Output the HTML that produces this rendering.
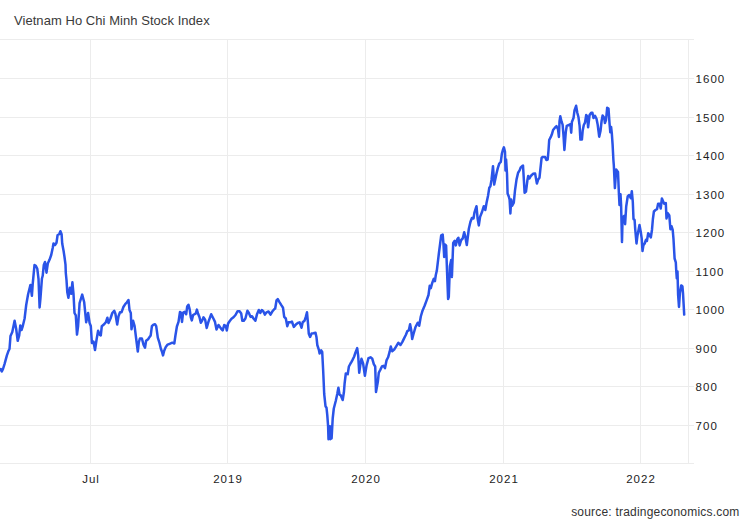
<!DOCTYPE html>
<html><head><meta charset="utf-8"><style>
html,body{margin:0;padding:0;background:#fff;}
body{width:750px;height:520px;overflow:hidden;position:relative;}
svg{position:absolute;left:0;top:0;}
text{font-family:"Liberation Sans",sans-serif;}
</style></head><body>
<svg width="750" height="520" viewBox="0 0 750 520">
<g stroke="#ececec" stroke-width="1" shape-rendering="crispEdges">
<line x1="0" y1="39.5" x2="694" y2="39.5"/>
<line x1="0" y1="78.5" x2="694" y2="78.5"/>
<line x1="0" y1="117.5" x2="694" y2="117.5"/>
<line x1="0" y1="155.5" x2="694" y2="155.5"/>
<line x1="0" y1="194.5" x2="694" y2="194.5"/>
<line x1="0" y1="232.5" x2="694" y2="232.5"/>
<line x1="0" y1="271.5" x2="694" y2="271.5"/>
<line x1="0" y1="309.5" x2="694" y2="309.5"/>
<line x1="0" y1="348.5" x2="694" y2="348.5"/>
<line x1="0" y1="386.5" x2="694" y2="386.5"/>
<line x1="0" y1="425.5" x2="694" y2="425.5"/>
<line x1="0" y1="463.5" x2="694" y2="463.5"/>
<line x1="90.5" y1="39" x2="90.5" y2="464"/>
<line x1="227.5" y1="39" x2="227.5" y2="464"/>
<line x1="365.5" y1="39" x2="365.5" y2="464"/>
<line x1="503.5" y1="39" x2="503.5" y2="464"/>
<line x1="640.5" y1="39" x2="640.5" y2="464"/>
<line x1="688.5" y1="39" x2="688.5" y2="464"/>
</g>
<text x="14" y="25" font-size="13" fill="#3a3a3a" letter-spacing="0.05">Vietnam Ho Chi Minh Stock Index</text>
<g font-size="11.5" fill="#1c1c1c" letter-spacing="1.0">
<text x="695.6" y="82.9">1600</text>
<text x="695.6" y="121.9">1500</text>
<text x="695.6" y="159.9">1400</text>
<text x="695.6" y="198.9">1300</text>
<text x="695.6" y="236.9">1200</text>
<text x="695.6" y="275.9">1100</text>
<text x="695.6" y="313.9">1000</text>
<text x="695.6" y="352.9">900</text>
<text x="695.6" y="390.9">800</text>
<text x="695.6" y="429.9">700</text>
<text x="91.0" y="483" text-anchor="middle">Jul</text>
<text x="228.0" y="483" text-anchor="middle">2019</text>
<text x="366.0" y="483" text-anchor="middle">2020</text>
<text x="504.0" y="483" text-anchor="middle">2021</text>
<text x="641.0" y="483" text-anchor="middle">2022</text>
</g>
<text x="739.5" y="516" font-size="12" fill="#333" letter-spacing="0.2" text-anchor="end">source: tradingeconomics.com</text>
<path d="M0,370 L0.8,369 L1.8,371.5 L3,369 L4.6,363.8 L6.9,355.4 L8.5,350.8 L9.5,349 L10.5,336 L12.3,332 L14.6,320.8 L16.2,329 L17.7,340.8 L19.2,335.4 L20.3,325.4 L21.5,330 L22.8,326 L24.6,318.5 L26.2,305 L28.1,294.2 L30.4,285 L31.9,295.8 L32.7,284.2 L34.5,265 L35.8,265.8 L37.3,268.8 L38.5,278.8 L39.6,307.5 L40.4,298.8 L41.9,278.8 L42.7,275.8 L43.8,265 L45,262 L46.5,272.7 L47.8,263.5 L49.6,259.6 L51.2,255 L52.7,248 L53.5,243.5 L55,245 L56.5,242.7 L57.6,235 L59.2,234.2 L60.4,231.2 L61.6,234.2 L62.2,243.5 L63.5,250.4 L64.5,257 L65.5,264.6 L65.8,273 L66.5,280 L67.3,292.3 L68.4,297.7 L69.9,287.7 L71.2,293.8 L72.4,282.3 L73.5,293.8 L74.5,313 L75.8,315.4 L77,334.6 L78.1,326 L79.6,303 L82.2,294.6 L84.2,302.3 L86.2,322.3 L88.1,313 L89.6,323 L90.8,326 L91.9,343 L93.5,341.5 L95,350 L96.5,340 L98.1,330.8 L99.6,334.6 L100.8,335.4 L101.8,326.2 L103.8,324.6 L105.8,322.3 L107.4,317.7 L108.5,323 L110.5,318.5 L112.3,313 L114.2,310.8 L115.4,313.8 L117.2,324.6 L118.5,316.2 L120,312.3 L121.5,312.3 L123.4,307 L125.4,303.8 L126.9,302.3 L128.5,300 L129.5,310 L130.8,313 L131.5,329.2 L133.1,320.8 L134.6,326.2 L136.2,339 L137.8,351.5 L138.8,342.3 L139.9,338.5 L141.9,338.5 L143.5,344.6 L145,347.7 L146.1,340.8 L148.1,339.2 L149.6,336.9 L150.7,335.4 L151.9,326.2 L153.5,324.6 L155,324.2 L156.2,326.2 L157.8,337.7 L159.3,342.3 L160.8,348.5 L161.9,351.5 L163,355.4 L164.2,350.8 L165.8,346.9 L167.6,344.6 L169.6,343.8 L172.3,342.7 L174.3,343.5 L175.4,335.8 L176.9,326.5 L178.5,321.9 L180,311.9 L181.1,312.7 L182,321.9 L183.1,312.7 L184.6,311.9 L186.2,314.2 L187.2,306.5 L188.5,304.7 L189.7,309.6 L190.8,317.3 L191.8,320.4 L193.1,315 L194.6,314.2 L195.8,313.5 L196.9,309.6 L198,313.5 L199.5,317.3 L200.8,322.7 L202.3,320.4 L203.5,317.3 L205.1,319.6 L206.7,328 L208.4,321.9 L211.2,314.2 L213.5,318.8 L215,321.9 L216.5,329.6 L218.5,325 L220.1,327.3 L221.2,328.8 L222.7,330.4 L224.2,325 L225.8,325.8 L226.8,330.4 L228.1,323.5 L229.6,321.2 L231.5,318.8 L233.5,317.3 L235.5,315 L237.6,311.2 L239.6,311.2 L241.2,313.5 L242.3,320.8 L243.8,320.8 L245.4,318.5 L247.4,310.8 L248.9,313 L250.5,316.9 L252,316.2 L253.5,318.5 L255.4,320.8 L256.9,314.6 L258.8,310 L260.3,313 L261.8,310 L263.4,311.5 L264.9,314.6 L266.5,312.3 L268.5,311.5 L270.5,314.6 L272.3,311.5 L274.2,309.2 L275.2,308.5 L276.5,300.5 L277.8,299.2 L279.6,302.3 L281.5,305.4 L283,307.7 L284.2,316.9 L285.8,318.5 L287.3,326.2 L288.5,322.3 L290.4,322.3 L291.9,321.5 L293.8,326.9 L295.8,324.6 L297.8,323 L299.6,322.3 L301.5,327.7 L302.7,322.3 L304.5,320.8 L305.8,316.9 L307,312.3 L308.1,324.6 L308.8,333.8 L310.1,336.9 L311.6,333.5 L313.5,333.3 L315.5,332.7 L316.5,337.3 L317.3,345 L318.8,349.6 L319.6,353.5 L321.2,350.4 L322.2,351.9 L323.2,371.2 L324.2,394 L325.5,406.2 L326.5,407.7 L327.3,415.4 L328.1,426.2 L328.5,439.2 L329.6,426.2 L330.4,439.2 L331.2,426.2 L331.6,438.5 L332.7,418.5 L333.8,408.5 L335.8,400.8 L337.3,393.8 L338.4,387.7 L339.6,394.6 L340.8,395.4 L342.7,400 L343.9,392.3 L344.6,383.5 L345.8,373.5 L347.7,374.2 L348.9,366.5 L350.5,363.5 L351.5,361.9 L352.3,360.4 L354.2,356.5 L355.4,352.7 L357.2,348.1 L358.2,355.8 L359.2,372.7 L360.3,365 L361.5,358.8 L363.1,363.5 L364.9,375.8 L366.5,365.8 L368.5,358.1 L370.5,357.3 L372.3,358.8 L373.8,364.2 L375.2,366.5 L376,392 L377.8,382 L378.8,372.7 L380.4,369.6 L381.9,366.5 L383.5,365.8 L385,368.1 L386.5,360.4 L388.1,357.3 L389.6,351.9 L390.8,346.5 L392.2,351.2 L394.2,349.6 L396.5,345.8 L398.4,342.7 L400.4,345 L402.4,341.9 L404.2,338.1 L405.8,335 L407.3,331.2 L408.8,330.4 L410.1,324.2 L411.2,330 L412.2,339 L413.5,334 L415.4,327.3 L417.7,322.7 L419.2,325.8 L420.8,316.5 L422.6,310.4 L424.6,305.8 L426.6,300.4 L428.5,295 L429.7,285.8 L430.8,288.1 L432.3,282.7 L433.8,278.8 L434.9,281.2 L435.8,275 L436.8,270.8 L438.8,254 L441.2,235.4 L442.7,234.6 L443.5,244.6 L444.2,256.9 L445,244.6 L446.1,245.4 L447.3,278.5 L448.1,299 L448.8,296.9 L449.9,266.2 L451.2,260 L451.9,276.9 L453.2,243 L454.7,240.8 L455.8,245.4 L457.3,239.2 L458.4,237.7 L459.6,245.4 L461.2,240 L462.7,238.5 L464.2,232.3 L465.2,236 L466.8,245 L468.8,229 L470.4,222 L471.9,218 L473.5,218.5 L474.5,212.3 L476.5,206.2 L477.6,218.5 L478.8,225.4 L480.1,216.9 L481.9,212.3 L483.8,206.2 L485.3,210 L486.5,203.1 L488.1,195.4 L489.3,187.7 L490.4,186.2 L491.5,180 L493,166.2 L494.2,184.6 L496.5,173.5 L497.8,168.1 L499.3,163.5 L500.8,161.9 L501.9,153.5 L503,149.6 L503.9,147.3 L505,151.9 L505.5,170.4 L506.1,159.6 L507,173.5 L507.6,193.5 L508.8,196.5 L509.6,199.6 L510.4,213.5 L511.2,199.6 L512.2,205.8 L513.8,202.7 L515,190.4 L516.5,179.6 L518.1,172.7 L519.6,170.4 L520.8,167.3 L522.4,165.8 L523,165.5 L523.9,180.3 L524.6,192.7 L526,191.5 L527.4,180.3 L528.2,176 L529.5,178.5 L530.8,176 L533,173.8 L535.1,173.4 L536,178.5 L536.9,183.5 L538.2,179.4 L539.5,177.7 L540.3,169.9 L541.6,157.8 L542.9,156.9 L545.1,156.9 L546.4,160 L547.7,159.5 L548.5,150.5 L549.2,140 L550.8,136.9 L551.8,134.6 L553.1,130 L554.9,127.7 L556.5,126.2 L558,129.2 L558.9,136.9 L559.5,121.5 L560.3,116.2 L561.5,121.5 L562.6,124.6 L563.5,135.4 L564.4,150 L565.8,131.9 L566.8,125.8 L568.8,125 L570.4,124.2 L571.2,132.7 L571.9,121.9 L573.5,118.1 L574.5,110.4 L576.1,105.8 L577.3,112.7 L578.5,117.3 L579.6,125.8 L580.4,139.6 L581.9,139.6 L582.7,130.4 L583.8,125 L585,122.7 L586.2,115 L587.3,116.5 L588.1,127.3 L589.6,115 L591.2,112.7 L592.4,112.7 L593.5,118.1 L595,115.8 L596.5,118.8 L597.6,124.2 L599.2,136.7 L600.5,131 L601.6,121 L602.6,115.4 L604.2,117.7 L604.9,123.1 L606,120 L607.2,107.7 L608.5,108.5 L609.5,123.1 L610.3,132.3 L611.1,126.9 L611.8,133.1 L612.6,144.6 L613.4,160 L613.8,165 L614.9,188.1 L616.2,169.6 L618,171.9 L618.9,193.5 L619.5,205 L620.5,194.2 L621.1,205 L622,241.9 L622.6,217.3 L624.2,215.8 L625.1,224.2 L626.2,206.5 L627.7,196.5 L629.2,195 L630.8,198.1 L631.8,191.2 L632.8,201.9 L633.5,219 L634.6,220 L635.2,229 L636.5,243.5 L637.4,236 L639.5,225 L640.8,232.3 L641.7,238.4 L642.5,251 L643.4,245.3 L644.7,243.5 L646,239.7 L646.9,241 L648.2,233.2 L649.5,235 L650.8,237.5 L652,229.7 L652.9,219 L653.9,211.5 L655.5,210 L657,209.2 L658.1,203.8 L659.6,203.8 L660.7,208.5 L661.9,198.5 L663.2,201.5 L664.2,203.8 L665.8,203.1 L666.5,218.5 L667.8,213.1 L669.3,215.4 L670.4,229.2 L671.5,226.2 L672.7,230 L673.5,239.2 L674.6,258.5 L675.8,262.3 L676.2,270 L676.8,278.5 L677.5,271.5 L678.1,294.6 L679,306.9 L679.9,293.1 L681.2,285.4 L682.4,286.2 L683,293.1 L683.6,303.8 L684.2,314.6" fill="none" stroke="#2a54e8" stroke-width="2.5" stroke-linejoin="round" stroke-linecap="round"/>
</svg>
</body></html>
